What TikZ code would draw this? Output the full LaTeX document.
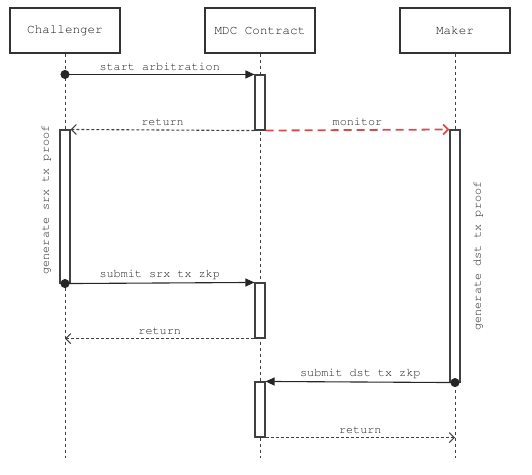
\documentclass[tikz,border=0pt]{standalone}
\usepackage[T1]{fontenc}
\usepackage{courier}
\usepackage{xcolor}
\usepackage{tikz}
\usetikzlibrary{arrows.meta}

\definecolor{monred}{RGB}{208,78,78}

\begin{document}
\begin{tikzpicture}[x=1pt, y=-1pt,
  head/.style={draw=black!80, line width=1.3pt, minimum width=110pt, minimum height=45pt, font=\ttfamily\fontsize{12.6}{14}\selectfont, text=black!90},
  life/.style={draw=black!75, line width=1pt, dash pattern=on 3pt off 3pt},
  act/.style={draw=black!75, line width=1.1pt, fill=white, minimum width=10pt, inner sep=0pt},
  lab/.style={font=\ttfamily\fontsize{11.8}{13}\selectfont, text=black!85},
  call/.style={draw=black!85, line width=1.1pt, shorten <=-4.5pt, {Circle[length=9pt]}-{Triangle[length=9pt,width=8pt]}},
  ret/.style={draw=black!75, line width=1.1pt, dash pattern=on 3pt off 2pt, -{Straight Barb[length=5pt,width=10pt]}},
  mon/.style={draw=monred, line width=1.8pt, dash pattern=on 8pt off 5pt, -{Straight Barb[length=5pt,width=10pt]}}
]
\useasboundingbox (0,0) rectangle (532,474);

\node[head] (chal) at (65,30.5) {Challenger};
\node[head] (mdc) at (260,30.5) {MDC Contract};
\node[head] (maker) at (455,30.5) {Maker};

\foreach \n in {chal,mdc,maker} {
  \coordinate (\n-end) at (\n.south |- 0,458);
  \draw[life] (\n.south) -- (\n-end);
}

\node[act, minimum height=55pt] (mdcA) at (260,102.5) {};
\node[act, minimum height=153pt] (chalA) at (65,206.5) {};
\node[act, minimum height=252pt] (makerA) at (455,256) {};
\node[act, minimum height=55pt] (mdcB) at (260,310.5) {};
\node[act, minimum height=55pt] (mdcC) at (260,409.5) {};

\coordinate (startpt) at (chal |- mdcA.north);
\coordinate (ret2end) at (chal |- mdcB.south);
\coordinate (ret3end) at (maker |- mdcC.south);

\draw[call] (startpt) -- (mdcA.north west) node[lab, midway, above] {start arbitration};
\draw[ret] (mdcA.south west) -- (chalA.north east) node[lab, midway, above] {return};
\draw[mon] (mdcA.south east) -- (makerA.north west) node[lab, midway, above] {monitor};
\draw[call] (chalA.south) -- (mdcB.north west) node[lab, midway, above] {submit srx tx zkp};
\draw[ret] (mdcB.south west) -- (ret2end) node[lab, midway, above] {return};
\draw[call] (makerA.south) -- (mdcC.north east) node[lab, midway, above] {submit dst tx zkp};
\draw[ret] (mdcC.south east) -- (ret3end) node[lab, midway, above] {return};

\node[lab, rotate=90] (srxproof) at (46,200) {generate srx tx proof};
\node[lab, rotate=90] (dstproof) at (478,256) {generate dst tx proof};
\end{tikzpicture}
\end{document}
